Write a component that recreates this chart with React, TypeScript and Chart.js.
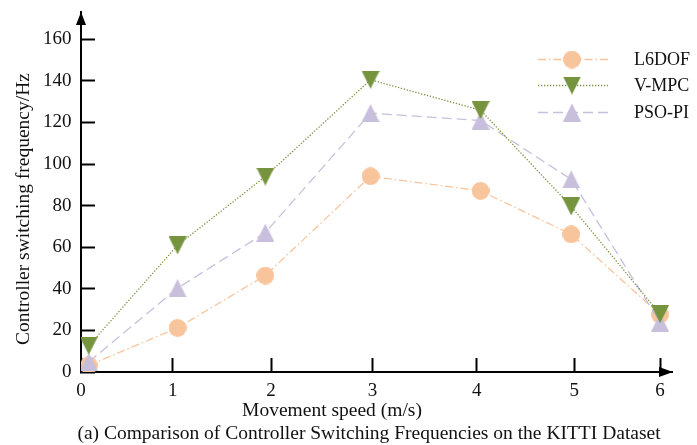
import React, { useEffect, useRef } from 'react';
import { Chart, registerables } from 'chart.js';

Chart.register(...registerables);

// ---- data ----
const seriesNames = ['L6DOF', 'V-MPC', 'PSO-PI'];
const speeds = [0.08, 1.0, 1.91, 3.0, 4.14, 5.08, 6.0];
const l6dofValues = [3.2, 21.2, 46.4, 94.1, 87.1, 66.2, 27.6];
const vmpcValues = [12.6, 60.9, 94.0, 140.5, 125.9, 79.6, 27.8];
const psopiValues = [4.8, 40.3, 67.0, 124.5, 120.9, 92.6, 23.8];
const xTickValues = [0, 0.95, 1.97, 3.02, 4.1, 5.11, 6];
const xTickLabels = ['0', '1', '2', '3', '4', '5', '6'];
const yTickValues = [0, 20, 40, 60, 80, 100, 120, 140, 160];
const xTitle = 'Movement speed (m/s)';
const yTitle = 'Controller switching frequency/Hz';
const caption = '(a) Comparison of Controller Switching Frequencies on the KITTI Dataset';

// ---- styles ----
const FONT = "'Liberation Serif', 'DejaVu Serif', serif";
const colors = ['#F8C49C', '#76943E', '#C8BFDC'];
const dashes = [[8, 3, 1.5, 3], [1.3, 1.7], [10, 5]];
const shapes: Array<'circle' | 'down' | 'up'> = ['circle', 'down', 'up'];
const MARKER = 18;

function makeMarker(shape: 'circle' | 'up' | 'down', color: string, size: number) {
  const c = document.createElement('canvas');
  c.width = size;
  c.height = size;
  const g = c.getContext('2d')!;
  g.fillStyle = color;
  g.beginPath();
  if (shape === 'circle') {
    g.arc(size / 2, size / 2, size / 2, 0, Math.PI * 2);
  } else if (shape === 'up') {
    g.moveTo(size / 2, 0);
    g.lineTo(size, size);
    g.lineTo(0, size);
    g.closePath();
  } else {
    g.moveTo(0, 0);
    g.lineTo(size, 0);
    g.lineTo(size / 2, size);
    g.closePath();
  }
  g.fill();
  return c;
}

const decorPlugin = {
  id: 'decor',
  afterDraw(chart: any) {
    const { ctx, chartArea } = chart;
    ctx.save();
    ctx.fillStyle = '#000';
    // y-axis arrow
    const ax = chartArea.left;
    ctx.beginPath();
    ctx.moveTo(ax, chartArea.top);
    ctx.lineTo(ax - 5, chartArea.top + 13);
    ctx.lineTo(ax + 5, chartArea.top + 13);
    ctx.closePath();
    ctx.fill();
    // x-axis arrow
    const ay = chartArea.bottom;
    ctx.beginPath();
    ctx.moveTo(chartArea.right + 1, ay);
    ctx.lineTo(chartArea.right - 13, ay - 5);
    ctx.lineTo(chartArea.right - 13, ay + 5);
    ctx.closePath();
    ctx.fill();

    // titles
    ctx.fillStyle = '#111';
    ctx.textBaseline = 'alphabetic';
    ctx.textAlign = 'center';
    ctx.font = `19.5px ${FONT}`;
    ctx.fillText(xTitle, 332, 416);
    ctx.fillText(caption, 369, 438.5);
    ctx.save();
    ctx.translate(29, 209);
    ctx.rotate(-Math.PI / 2);
    ctx.fillText(yTitle, 0, 0);
    ctx.restore();

    // legend
    const rows = [59.5, 85.5, 112.5];
    chart.data.datasets.forEach((ds: any, i: number) => {
      const y = rows[i];
      ctx.save();
      ctx.strokeStyle = ds.borderColor;
      ctx.lineWidth = ds.borderWidth;
      ctx.setLineDash(ds.borderDash);
      ctx.beginPath();
      ctx.moveTo(538, y);
      ctx.lineTo(608, y);
      ctx.stroke();
      ctx.restore();
      const m = ds.pointStyle as HTMLCanvasElement;
      ctx.drawImage(m, 572 - m.width / 2, y - m.height / 2);
      ctx.fillStyle = '#111';
      ctx.textAlign = 'left';
      ctx.textBaseline = 'middle';
      ctx.font = `18px ${FONT}`;
      ctx.fillText(ds.label, 634, y + 1);
    });
    ctx.restore();
  },
};

export default function App() {
  const ref = useRef<HTMLCanvasElement | null>(null);

  useEffect(() => {
    document.body.style.margin = '0';
    if (!ref.current) return;
    const seriesValues = [l6dofValues, vmpcValues, psopiValues];
    const datasets = seriesNames.map((name, i) => ({
      label: name,
      data: speeds.map((s, j) => ({ x: s, y: seriesValues[i][j] })),
      borderColor: colors[i],
      backgroundColor: colors[i],
      borderWidth: 1.3,
      borderDash: dashes[i],
      pointStyle: makeMarker(shapes[i], colors[i], MARKER),
      pointRadius: 9,
      pointHoverRadius: 9,
      tension: 0,
      order: [2, 0, 1][i],
    }));

    const zeroPad = (scale: any) => {
      scale.paddingTop = 0;
      scale.paddingBottom = 0;
      scale.paddingLeft = 0;
      scale.paddingRight = 0;
    };

    const chart = new Chart(ref.current, {
      type: 'line',
      data: { datasets },
      plugins: [decorPlugin],
      options: {
        animation: false,
        responsive: true,
        maintainAspectRatio: false,
        layout: { padding: { top: 12, right: 25, left: 0, bottom: 0 } },
        plugins: {
          legend: { display: false },
          tooltip: { enabled: false },
          title: { display: false },
        },
        scales: {
          x: {
            type: 'linear',
            min: 0,
            max: 6.124,
            afterBuildTicks: (scale: any) => {
              scale.ticks = xTickValues.map((v) => ({ value: v }));
            },
            afterFit: (scale: any) => {
              scale.height = 73;
              zeroPad(scale);
            },
            ticks: {
              autoSkip: false,
              maxRotation: 0,
              padding: 22,
              color: '#111',
              font: { family: FONT, size: 19 },
              callback: (_v: any, index: number) => xTickLabels[index],
            },
            grid: {
              display: true,
              drawOnChartArea: false,
              drawTicks: true,
              tickLength: -14,
              tickColor: '#000',
              tickWidth: 2,
            },
            border: { display: true, color: '#000', width: 2 },
          },
          y: {
            type: 'linear',
            min: 0,
            max: 173.1,
            afterBuildTicks: (scale: any) => {
              scale.ticks = yTickValues.map((v) => ({ value: v }));
            },
            afterFit: (scale: any) => {
              scale.width = 81;
              zeroPad(scale);
            },
            ticks: {
              autoSkip: false,
              padding: 23.5,
              color: '#111',
              font: { family: FONT, size: 19 },
            },
            grid: {
              display: true,
              drawOnChartArea: false,
              drawTicks: true,
              tickLength: -14,
              tickColor: '#000',
              tickWidth: 2,
            },
            border: { display: true, color: '#000', width: 2 },
          },
        },
      },
    });
    return () => chart.destroy();
  }, []);

  return (
    <div style={{ width: 697, height: 445, position: 'relative' }}>
      <canvas ref={ref} />
    </div>
  );
}
